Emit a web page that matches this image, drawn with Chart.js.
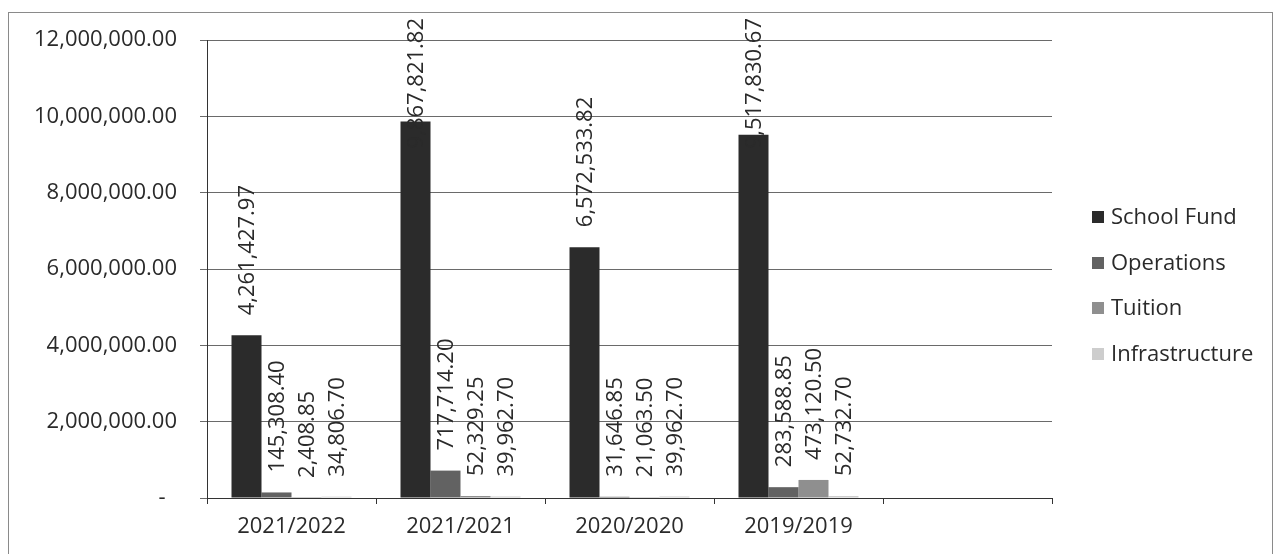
<!DOCTYPE html>
<html>
<head>
<meta charset="utf-8">
<script src="https://cdn.jsdelivr.net/npm/chart.js@4.4.1/dist/chart.umd.min.js"></script>
<style>
  html, body { margin: 0; padding: 0; background: #fff; }
  #wrap { position: relative; width: 1280px; height: 554px; overflow: hidden; }
  #frame { position: absolute; left: 8px; top: 12px; width: 1265px; height: 600px;
           border: 1px solid #8a8a8a; box-sizing: border-box; }
  #legend { position: absolute; left: 1092px; top: 201px; font-family: "Open Sans", sans-serif;
            font-size: 22px; color: #2a2a2a; }
  #legend div { height: 45.7px; line-height: 28px; white-space: nowrap; }
  #legend span.box { display: inline-block; width: 12px; height: 12px; margin-right: 7px;
                     vertical-align: 1px; }
  canvas { position: absolute; left: 0; top: 0; }
</style>
</head>
<body>
<div id="wrap">
  <div id="frame"></div>
  <canvas id="barChart" width="1280" height="554"></canvas>
  <div id="legend"></div>
</div>
<script>
// categories (the last one is an empty slot, as in the original sheet)
var periodos = ['2021/2022', '2021/2021', '2020/2020', '2019/2019', ''];

var schoolFund     = [4261427.97, 9867821.82, 6572533.82, 9517830.67, null];
var operations     = [145308.40, 717714.20, 31646.85, 283588.85, null];
var tuition        = [2408.85, 52329.25, 21063.50, 473120.50, null];
var infrastructure = [34806.70, 39962.70, 39962.70, 52732.70, null];

var series  = ['School Fund', 'Operations', 'Tuition', 'Infrastructure'];
var colores = ['#2b2b2b', '#626262', '#8f8f8f', '#cdcdcd'];

var fuente = '"Open Sans", sans-serif';
var tinta  = '#2a2a2a';

function fmt(v) {
  return v.toLocaleString('en-US', { minimumFractionDigits: 2, maximumFractionDigits: 2 });
}

// etiquetas giradas encima de cada barra
var etiquetas = {
  id: 'etiquetas',
  afterDatasetsDraw: function(chart) {
    var ctx = chart.ctx;
    ctx.save();
    ctx.font = '22px ' + fuente;
    ctx.fillStyle = tinta;
    ctx.textAlign = 'left';
    ctx.textBaseline = 'middle';
    chart.data.datasets.forEach(function(ds, i) {
      var meta = chart.getDatasetMeta(i);
      meta.data.forEach(function(bar, j) {
        var v = ds.data[j];
        if (v === null || v === undefined) return;
        var txt = fmt(v);
        var w = ctx.measureText(txt).width;
        var y0 = bar.y - 20;
        if (y0 - w < 18) y0 = 18 + w;
        ctx.save();
        ctx.translate(bar.x + 1, y0);
        ctx.rotate(-Math.PI / 2);
        ctx.fillText(txt, 0, 0);
        ctx.restore();
      });
    });
    ctx.restore();
  }
};

var datasets = [schoolFund, operations, tuition, infrastructure].map(function(d, i) {
  return {
    label: series[i],
    data: d,
    backgroundColor: colores[i],
    borderWidth: 0,
    categoryPercentage: 0.71,
    barPercentage: 1.0
  };
});

var ctx = document.getElementById('barChart').getContext('2d');
var chart = new Chart(ctx, {
  type: 'bar',
  data: { labels: periodos, datasets: datasets },
  options: {
    responsive: false,
    animation: false,
    layout: { padding: { left: 0, top: 40, right: 228, bottom: 0 } },
    scales: {
      x: {
        afterFit: function(s) { s.height = 56; },
        grid: { drawOnChartArea: false, drawTicks: true, tickLength: 6, offset: true, color: '#333' },
        border: { color: '#333', width: 1 },
        ticks: { font: { family: fuente, size: 22 }, color: tinta, padding: 10, maxRotation: 0 }
      },
      y: {
        min: 0,
        max: 12000000,
        afterFit: function(s) { s.width = 207; },
        grid: { color: '#6a6a6a', tickLength: 7 },
        border: { color: '#333', width: 1 },
        ticks: {
          stepSize: 2000000,
          padding: 23,
          font: { family: fuente, size: 22 },
          color: tinta,
          callback: function(v) { return v === 0 ? '-  ' : fmt(v); }
        }
      }
    },
    plugins: {
      legend: { display: false },
      tooltip: { enabled: false }
    }
  },
  plugins: [etiquetas]
});

// leyenda html a partir de los datasets
var leg = document.getElementById('legend');
chart.data.datasets.forEach(function(ds) {
  var row = document.createElement('div');
  row.innerHTML = '<span class="box" style="background:' + ds.backgroundColor + '"></span>' + ds.label;
  leg.appendChild(row);
});
</script>
</body>
</html>
